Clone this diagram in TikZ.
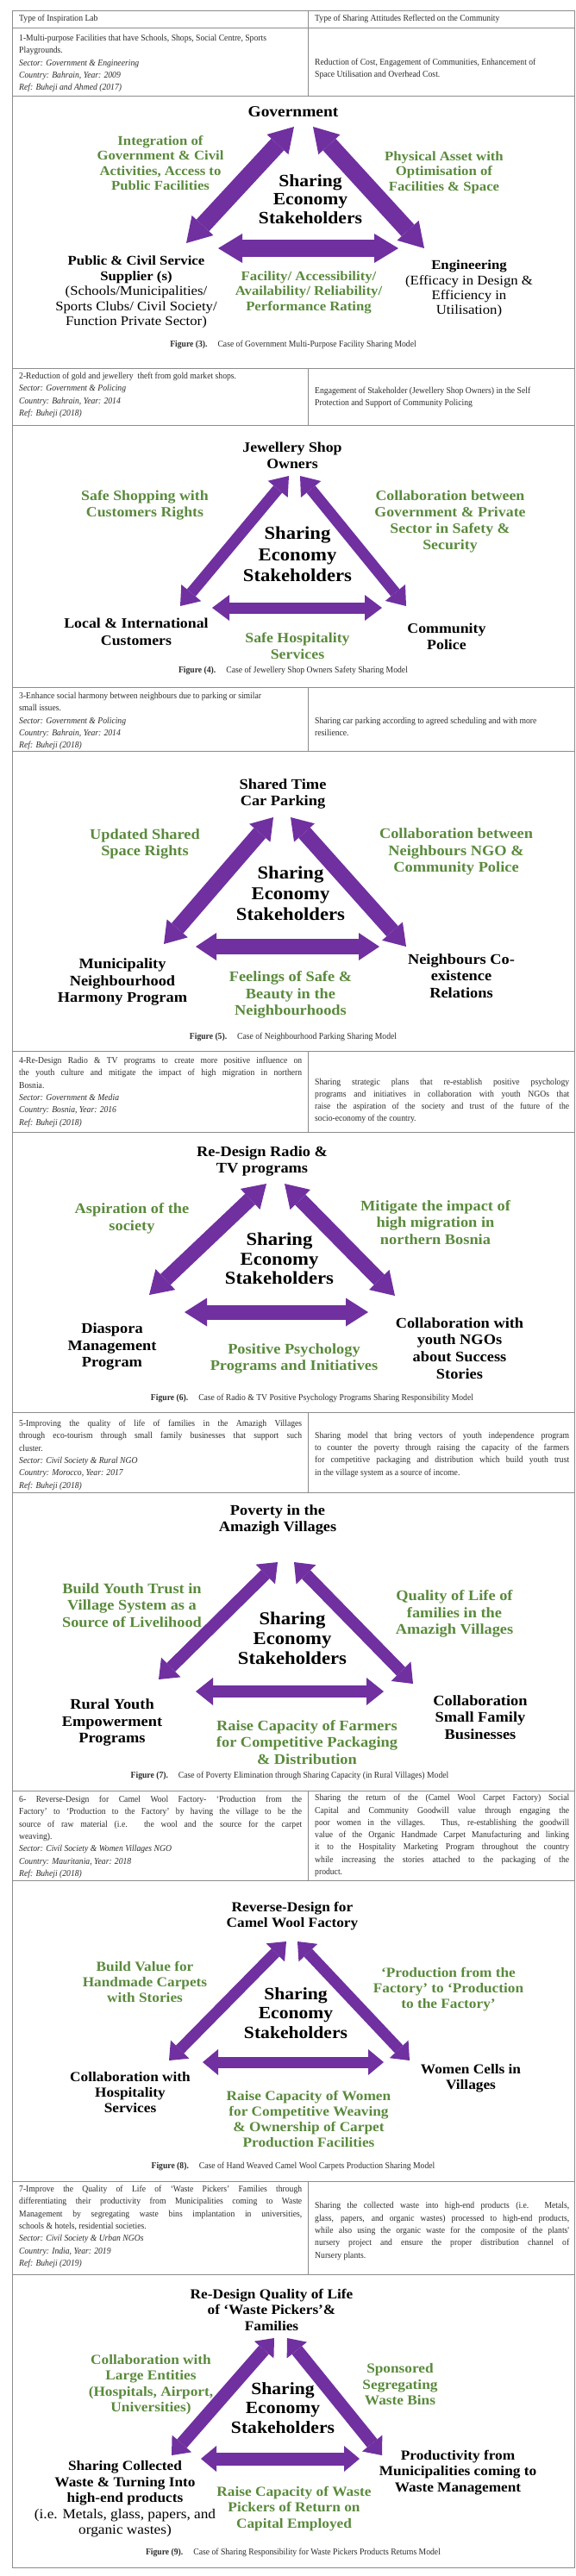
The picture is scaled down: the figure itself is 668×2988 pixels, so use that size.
\documentclass[tikz,border=0pt]{standalone}
\usepackage{fontspec}
\setmainfont{Liberation Serif}
\newfontfamily\tabfont[FakeStretch=0.92]{Liberation Serif}
\newfontfamily\labfont[FakeStretch=1.08]{Liberation Serif}
\usetikzlibrary{arrows.meta}
\definecolor{sharepurple}{HTML}{7030A0}
\definecolor{linkgreen}{HTML}{5A8A3C}
\definecolor{rulegray}{HTML}{8C8C8C}
\definecolor{inkgray}{HTML}{2B2B2B}
\newcommand{\labsz}{\fontsize{16}{18.5}\selectfont}
\newcommand{\hubsz}{\fontsize{21}{23}\selectfont}
\newcommand{\jl}[1]{\makebox[328pt][s]{#1}}
\newcommand{\jr}[1]{\makebox[295pt][s]{#1}}

\begin{document}
\begin{tikzpicture}[x=1pt,y=-1pt,
  rule/.style={draw=rulegray,line width=0.9pt},
  tabtext/.style={font=\tabfont\fontsize{10.5}{14.3}\selectfont,text=inkgray,inner sep=0pt,align=left,anchor=north west},
  attext/.style={tabtext,anchor=west},
  figcap/.style={font=\tabfont\fontsize{10.5}{13}\selectfont,text=inkgray,inner sep=0pt},
  party/.style={font=\labfont\bfseries\labsz,align=center,inner sep=0pt},
  link/.style={party,text=linkgreen},
  hub/.style={font=\labfont\bfseries\hubsz,align=center,inner sep=0pt},
  share/.style n args={3}{draw=sharepurple,line width=#1,
    arrows={Triangle[length=#3,width=#2,line width=0pt]-Triangle[length=#3,width=#2,line width=0pt]}}]
  \useasboundingbox (0,0) rectangle (668,2988);

  % table
  \draw[rule] (14,12) rectangle (666,2978);
  \foreach \y in {32,111,427,493,797,871,1219,1313,1638,1731,2077,2181,2530,2638}
    \draw[rule] (14,\y) -- (666,\y);
  \foreach \a/\b in {12/111,427/493,797/871,1219/1313,1638/1731,2077/2181,2530/2638}
    \draw[rule] (357,\a) -- (357,\b);

  \node[attext] (labhead) at (22,22) {Type of Inspiration Lab};
  \node[attext] (atthead) at (365,22) {Type of Sharing Attitudes Reflected on the Community};

  \node[tabtext] (lab1) at (22,40) {1-Multi-purpose Facilities that have Schools, Shops, Social Centre, Sports\\Playgrounds.\\
    \textit{Sector: Government \& Engineering}\\\textit{Country: Bahrain, Year: 2009}\\\textit{Ref: Buheji and Ahmed (2017)}};
  \node[attext] (att1) at (365,80) {Reduction of Cost, Engagement of Communities, Enhancement of\\Space Utilisation and Overhead Cost.};

  \node[tabtext] (lab2) at (22,432) {2-Reduction of gold and jewellery\ \ theft from gold market shops.\\
    \textit{Sector: Government \& Policing}\\\textit{Country: Bahrain, Year: 2014}\\\textit{Ref: Buheji (2018)}};
  \node[attext] (att2) at (365,461) {Engagement of Stakeholder (Jewellery Shop Owners) in the Self\\Protection and Support of Community Policing};

  \node[tabtext] (lab3) at (22,803) {3-Enhance social harmony between neighbours due to parking or similar\\small issues.\\
    \textit{Sector: Government \& Policing}\\\textit{Country: Bahrain, Year: 2014}\\\textit{Ref: Buheji (2018)}};
  \node[attext] (att3) at (365,843) {Sharing car parking according to agreed scheduling and with more\\resilience.};

  \node[tabtext] (lab4) at (22,1226) {\jl{4-Re-Design Radio \& TV programs to create more positive influence on}\\
    \jl{the youth culture and mitigate the impact of high migration in northern}\\Bosnia.\\
    \textit{Sector: Government \& Media}\\\textit{Country: Bosnia, Year: 2016}\\\textit{Ref: Buheji (2018)}};
  \node[attext] (att4) at (365,1277) {\jr{Sharing strategic plans that re-establish positive psychology}\\
    \jr{programs and initiatives in collaboration with youth NGOs that}\\
    \jr{raise the aspiration of the society and trust of the future of the}\\socio-economy of the country.};

  \node[tabtext] (lab5) at (22,1647) {\jl{5-Improving the quality of life of families in the Amazigh Villages}\\
    \jl{through eco-tourism through small family businesses that support such}\\cluster.\\
    \textit{Sector: Civil Society \& Rural NGO}\\\textit{Country: Morocco, Year: 2017}\\\textit{Ref: Buheji (2018)}};
  \node[attext] (att5) at (365,1687) {\jr{Sharing model that bring vectors of youth independence program}\\
    \jr{to counter the poverty through raising the capacity of the farmers}\\
    \jr{for competitive packaging and distribution which build youth trust}\\in the village system as a source of income.};

  \node[tabtext] (lab6) at (22,2083) {\jl{6- Reverse-Design for Camel Wool Factory- ‘Production from the}\\
    \jl{Factory’ to ‘Production to the Factory’ by having the village to be the}\\
    \jl{source of raw material (i.e. the wool and the source for the carpet}\\weaving).\\
    \textit{Sector: Civil Society \& Women Villages NGO}\\\textit{Country: Mauritania, Year: 2018}\\\textit{Ref: Buheji (2018)}};
  \node[attext] (att6) at (365,2129) {\jr{Sharing the return of the (Camel Wool Carpet Factory) Social}\\
    \jr{Capital and Community Goodwill value through engaging the}\\
    \jr{poor women in the villages. Thus, re-establishing the goodwill}\\
    \jr{value of the Organic Handmade Carpet Manufacturing and linking}\\
    \jr{it to the Hospitality Marketing Program throughout the country}\\
    \jr{while increasing the stories attached to the packaging of the}\\product.};

  \node[tabtext] (lab7) at (22,2535) {\jl{7-Improve the Quality of Life of ‘Waste Pickers’ Families through}\\
    \jl{differentiating their productivity from Municipalities coming to Waste}\\
    \jl{Management by segregating waste bins implantation in universities,}\\schools \& hotels, residential societies.\\
    \textit{Sector: Civil Society \& Urban NGOs}\\\textit{Country: India, Year: 2019}\\\textit{Ref: Buheji (2019)}};
  \node[attext] (att7) at (365,2588) {\jr{Sharing the collected waste into high-end products (i.e. Metals,}\\
    \jr{glass, papers, and organic wastes) processed to high-end products,}\\
    \jr{while also using the organic waste for the composite of the plants'}\\
    \jr{nursery project and ensure the proper distribution channel of}\\Nursery plants.};

  % figure 3
  \renewcommand{\labsz}{\fontsize{15.5}{17.4}\selectfont}
  \renewcommand{\hubsz}{\fontsize{20}{21.5}\selectfont}
  \node[party,font=\labfont\bfseries\fontsize{18}{20}\selectfont] (gov) at (340,130) {Government};
  \node[link] (govciv) at (186,189) {Integration of\\Government \& Civil\\Activities, Access to\\Public Facilities};
  \node[link] (asset) at (515,200) {Physical Asset with\\Optimisation of\\Facilities \& Space};
  \node[hub] (hub3) at (360,231) {Sharing\\Economy\\Stakeholders};
  \node[party] (supplier) at (158,339) {Public \& Civil Service\\Supplier (s)\\\mdseries(Schools/Municipalities/\\\mdseries Sports Clubs/ Civil Society/\\\mdseries Function Private Sector)};
  \node[link] (facility) at (358,339) {Facility/ Accessibility/\\Availability/ Reliability/\\Performance Rating};
  \node[party] (engin) at (544,335) {Engineering\\\mdseries(Efficacy in Design \&\\\mdseries Efficiency in\\\mdseries Utilisation)};
  \coordinate (tl3) at (341,147); \coordinate (bl3) at (216,282);
  \coordinate (tr3) at (363,147); \coordinate (br3) at (492,288);
  \coordinate (hl3) at (253,288); \coordinate (hr3) at (462,288);
  \draw[share={20pt}{34pt}{28pt}] (tl3) -- (bl3); \draw[share={20pt}{34pt}{28pt}] (tr3) -- (br3); \draw[share={20pt}{34pt}{28pt}] (hl3) -- (hr3);
  \node[figcap] (cap3) at (340,400) {\textbf{Figure (3).}\hspace{12pt}Case of Government Multi-Purpose Facility Sharing Model};

  % figure 4
  \renewcommand{\labsz}{\fontsize{16.5}{19.3}\selectfont}
  \renewcommand{\hubsz}{\fontsize{21}{24.5}\selectfont}
  \node[party] (owners) at (339,528) {Jewellery Shop\\Owners};
  \node[link] (safeshop) at (168,586) {Safe Shopping with\\Customers Rights};
  \node[link] (govpriv) at (522,605) {Collaboration between\\Government \& Private\\Sector in Safety \&\\Security};
  \node[hub] (hub4) at (345,643) {Sharing\\Economy\\Stakeholders};
  \node[party] (customers) at (158,733) {Local \& International\\Customers};
  \node[link] (hospit) at (345,749) {Safe Hospitality\\Services};
  \node[party] (police) at (518,738) {Community\\Police};
  \coordinate (tl4) at (335,552); \coordinate (bl4) at (209,703);
  \coordinate (tr4) at (348,552); \coordinate (br4) at (471,703);
  \coordinate (hl4) at (246,705); \coordinate (hr4) at (443,705);
  \draw[share={13pt}{30pt}{20pt}] (tl4) -- (bl4); \draw[share={13pt}{30pt}{20pt}] (tr4) -- (br4); \draw[share={13pt}{30pt}{20pt}] (hl4) -- (hr4);
  \node[figcap] (cap4) at (340,778) {\textbf{Figure (4).}\hspace{12pt}Case of Jewellery Shop Owners Safety Sharing Model};

  % figure 5
  \renewcommand{\labsz}{\fontsize{17}{19.8}\selectfont}
  \renewcommand{\hubsz}{\fontsize{21}{24}\selectfont}
  \node[party] (parking) at (328,921) {Shared Time\\Car Parking};
  \node[link] (rights) at (168,979) {Updated Shared\\Space Rights};
  \node[link] (ngopolice) at (529,988) {Collaboration between\\Neighbours NGO \&\\Community Police};
  \node[hub] (hub5) at (337,1036) {Sharing\\Economy\\Stakeholders};
  \node[party] (harmony) at (142,1139) {Municipality\\Neighbourhood\\Harmony Program};
  \node[link] (feelings) at (337,1154) {Feelings of Safe \&\\Beauty in the\\Neighbourhoods};
  \node[party] (coexist) at (535,1132) {Neighbours Co-\\existence\\Relations};
  \coordinate (tl5) at (317,948); \coordinate (bl5) at (190,1095);
  \coordinate (tr5) at (337,948); \coordinate (br5) at (471,1098);
  \coordinate (hl5) at (227,1098); \coordinate (hr5) at (440,1098);
  \draw[share={18pt}{32pt}{24pt}] (tl5) -- (bl5); \draw[share={18pt}{32pt}{24pt}] (tr5) -- (br5); \draw[share={18pt}{32pt}{24pt}] (hl5) -- (hr5);
  \node[figcap] (cap5) at (340,1203) {\textbf{Figure (5).}\hspace{12pt}Case of Neighbourhood Parking Sharing Model};

  % figure 6
  \renewcommand{\labsz}{\fontsize{17}{19.8}\selectfont}
  \renewcommand{\hubsz}{\fontsize{21}{22.5}\selectfont}
  \node[party] (radiotv) at (304,1347) {Re-Design Radio \&\\TV programs};
  \node[link] (aspire) at (153,1413) {Aspiration of the\\society};
  \node[link] (migrate) at (505,1418) {Mitigate the impact of\\high migration in\\northern Bosnia};
  \node[hub] (hub6) at (324,1460) {Sharing\\Economy\\Stakeholders};
  \node[party] (diaspora) at (130,1562) {Diaspora\\Management\\Program};
  \node[link] (positive) at (341,1576) {Positive Psychology\\Programs and Initiatives};
  \node[party] (youthngo) at (533,1564) {Collaboration with\\youth NGOs\\about Success\\Stories};
  \coordinate (tl6) at (309,1373); \coordinate (bl6) at (173,1502);
  \coordinate (tr6) at (330,1373); \coordinate (br6) at (458,1503);
  \coordinate (hl6) at (214,1522); \coordinate (hr6) at (427,1522);
  \draw[share={17pt}{33pt}{26pt}] (tl6) -- (bl6); \draw[share={17pt}{33pt}{26pt}] (tr6) -- (br6); \draw[share={17pt}{33pt}{26pt}] (hl6) -- (hr6);
  \node[figcap] (cap6) at (362,1622) {\textbf{Figure (6).}\hspace{12pt}Case of Radio \& TV Positive Psychology Programs Sharing Responsibility Model};

  % figure 7
  \renewcommand{\labsz}{\fontsize{17}{19.3}\selectfont}
  \renewcommand{\hubsz}{\fontsize{21}{23}\selectfont}
  \node[party] (poverty) at (322,1763) {Poverty in the\\Amazigh Villages};
  \node[link] (trust) at (153,1862) {Build Youth Trust in\\Village System as a\\Source of Livelihood};
  \node[link] (quality) at (527,1872) {Quality of Life of\\families in the\\Amazigh Villages};
  \node[hub] (hub7) at (339,1900) {Sharing\\Economy\\Stakeholders};
  \node[party] (ruralyouth) at (130,1998) {Rural Youth\\Empowerment\\Programs};
  \node[link] (farmers) at (356,2021) {Raise Capacity of Farmers\\for Competitive Packaging\\\& Distribution};
  \node[party] (family) at (557,1992) {Collaboration\\Small Family\\Businesses};
  \coordinate (tl7) at (322,1812); \coordinate (bl7) at (184,1948);
  \coordinate (tr7) at (341,1812); \coordinate (br7) at (479,1953);
  \coordinate (hl7) at (227,1962); \coordinate (hr7) at (445,1962);
  \draw[share={14pt}{32pt}{20pt}] (tl7) -- (bl7); \draw[share={14pt}{32pt}{20pt}] (tr7) -- (br7); \draw[share={14pt}{32pt}{20pt}] (hl7) -- (hr7);
  \node[figcap] (cap7) at (336,2060) {\textbf{Figure (7).}\hspace{12pt}Case of Poverty Elimination through Sharing Capacity (in Rural Villages) Model};

  % figure 8
  \renewcommand{\labsz}{\fontsize{16}{18}\selectfont}
  \renewcommand{\hubsz}{\fontsize{20}{22.5}\selectfont}
  \node[party] (camel) at (339,2223) {Reverse-Design for\\Camel Wool Factory};
  \node[link] (carpets) at (168,2299) {Build Value for\\Handmade Carpets\\with Stories};
  \node[link] (production) at (520,2308) {‘Production from the\\Factory’ to ‘Production\\to the Factory’};
  \node[hub] (hub8) at (343,2335) {Sharing\\Economy\\Stakeholders};
  \node[party] (hospitality) at (151,2427) {Collaboration with\\Hospitality\\Services};
  \node[party] (women) at (546,2411) {Women Cells in\\Villages};
  \node[link] (weaving) at (358,2458) {Raise Capacity of Women\\for Competitive Weaving\\\& Ownership of Carpet\\Production Facilities};
  \coordinate (tl8) at (332,2252); \coordinate (bl8) at (196,2390);
  \coordinate (tr8) at (345,2252); \coordinate (br8) at (475,2390);
  \coordinate (hl8) at (235,2392); \coordinate (hr8) at (445,2392);
  \draw[share={13pt}{30pt}{18pt}] (tl8) -- (bl8); \draw[share={13pt}{30pt}{18pt}] (tr8) -- (br8); \draw[share={13pt}{30pt}{18pt}] (hl8) -- (hr8);
  \node[figcap] (cap8) at (340,2513) {\textbf{Figure (8).}\hspace{12pt}Case of Hand Weaved Camel Wool Carpets Production Sharing Model};

  % figure 9
  \renewcommand{\labsz}{\fontsize{16}{18.5}\selectfont}
  \renewcommand{\hubsz}{\fontsize{20}{22.5}\selectfont}
  \node[party] (pickers) at (315,2679) {Re-Design Quality of Life\\of ‘Waste Pickers’\&\\Families};
  \node[link] (entities) at (175,2766) {Collaboration with\\Large Entities\\(Hospitals, Airport,\\Universities)};
  \node[link] (bins) at (464,2766) {Sponsored\\Segregating\\Waste Bins};
  \node[hub] (hub9) at (328,2793) {Sharing\\Economy\\Stakeholders};
  \node[party] (collected) at (145,2899) {Sharing Collected\\Waste \& Turning Into\\high-end products\\\mdseries(i.e. Metals, glass, papers, and\\\mdseries organic wastes)};
  \node[party] (municip) at (531,2868) {Productivity from\\Municipalities coming to\\Waste Management};
  \node[link] (capital) at (341,2910) {Raise Capacity of Waste\\Pickers of Return on\\Capital Employed};
  \coordinate (tl9) at (318,2712); \coordinate (bl9) at (199,2848);
  \coordinate (tr9) at (333,2712); \coordinate (br9) at (443,2848);
  \coordinate (hl9) at (233,2852); \coordinate (hr9) at (417,2852);
  \draw[share={15pt}{30pt}{18pt}] (tl9) -- (bl9); \draw[share={15pt}{30pt}{18pt}] (tr9) -- (br9); \draw[share={15pt}{30pt}{18pt}] (hl9) -- (hr9);
  \node[figcap] (cap9) at (340,2961) {\textbf{Figure (9).}\hspace{12pt}Case of Sharing Responsibility for Waste Pickers Products Returns Model};
\end{tikzpicture}
\end{document}
